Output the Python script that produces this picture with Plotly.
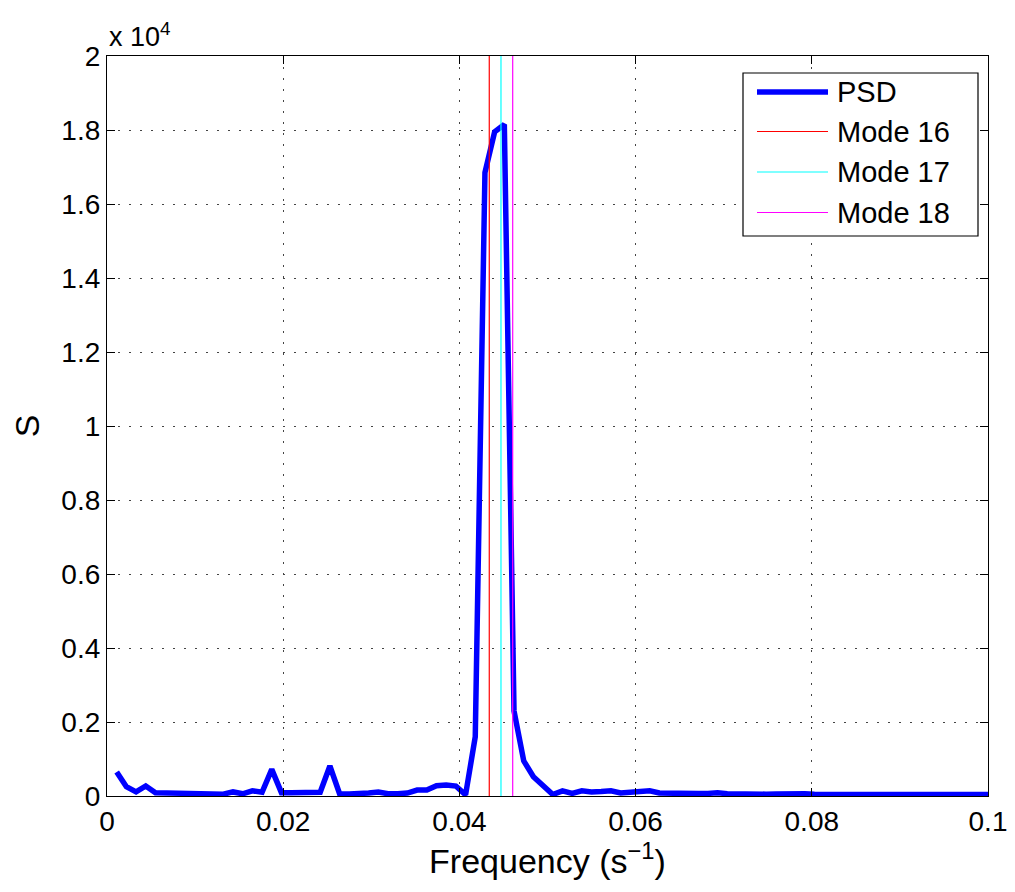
import plotly.graph_objects as go

# Frequency resolution and PSD values (S)
df = 0.0011
psd_values = [
    650, 250, 110, 270, 90, 80, 70, 60, 55, 50,
    50, 50, 110, 60, 140, 100, 720, 90, 85, 90,
    80, 100, 810, 60, 55, 60, 80, 110, 60, 60,
    80, 160, 160, 280, 300, 270, 30, 1600, 16850, 17950,
    18150, 2300, 950, 520, 300, 40, 140, 70, 140, 110,
    120, 140, 80, 100, 100, 140, 80, 70, 70, 60,
    65, 70, 90, 60, 50, 60, 55, 50, 55, 60,
    80, 60, 50, 50, 55, 70, 55, 50, 45, 50,
    45, 45, 50, 45, 40, 45, 45, 40, 40, 40, 40,
]
freqs = [df * (i + 1) for i in range(len(psd_values))]

mode_names = ["Mode 16", "Mode 17", "Mode 18"]
mode_freqs = [0.04339, 0.04472, 0.04605]
mode_colors = ["#ff0000", "#00ffff", "#ff00ff"]

y_max = 20000
y_ticks = [0, 2000, 4000, 6000, 8000, 10000, 12000, 14000, 16000, 18000, 20000]
y_ticktext = ["0", "0.2", "0.4", "0.6", "0.8", "1", "1.2", "1.4", "1.6", "1.8", "2"]
x_ticks = [0, 0.02, 0.04, 0.06, 0.08, 0.1]
x_ticktext = ["0", "0.02", "0.04", "0.06", "0.08", "0.1"]

FONT = "Liberation Sans, Arial, sans-serif"

W, H = 1015, 892
ML, MR, MT, MB = 99, 35, 48, 104
PW, PH = W - ML - MR, H - MT - MB


def px_x(px):
    return (px - 107) / PW


def px_y(py):
    return (796 - py) / PH


fig = go.Figure()
fig.add_trace(go.Scatter(
    x=freqs, y=psd_values, mode="lines", name="PSD",
    line=dict(color="#0000ff", width=5.5), showlegend=False,
))
for name, f, c in zip(mode_names, mode_freqs, mode_colors):
    fig.add_trace(go.Scatter(
        x=[f, f], y=[0, y_max], mode="lines", name=name,
        line=dict(color=c, width=1.2), showlegend=False,
    ))

# Custom legend (MATLAB-style, long line samples)
legend_names = ["PSD"] + mode_names
legend_colors = ["#0000ff"] + mode_colors
legend_widths = [5.5, 1.2, 1.2, 1.2]
row_y = [92, 131.5, 172, 212.5]
shapes = [dict(
    type="rect", xref="paper", yref="paper",
    x0=px_x(743), x1=px_x(978), y0=px_y(236), y1=px_y(73),
    line=dict(color="black", width=1.2), fillcolor="white", layer="above",
)]
annotations = []
for nm, col, lw, ry in zip(legend_names, legend_colors, legend_widths, row_y):
    shapes.append(dict(
        type="line", xref="paper", yref="paper",
        x0=px_x(757), x1=px_x(828), y0=px_y(ry), y1=px_y(ry),
        line=dict(color=col, width=lw), layer="above",
    ))
    annotations.append(dict(
        text=nm, xref="paper", yref="paper", x=px_x(835), y=px_y(ry),
        xanchor="left", yanchor="middle", showarrow=False,
        font=dict(size=29, family=FONT),
    ))

annotations.append(dict(
    text="x 10<sup>4</sup>", xref="paper", yref="paper",
    x=0.0, y=1.0, xanchor="left", yanchor="bottom", yshift=2,
    showarrow=False, font=dict(size=27, family=FONT),
))

fig.update_layout(
    width=W, height=H,
    margin=dict(l=ML, r=MR, t=MT, b=MB),
    paper_bgcolor="white", plot_bgcolor="white",
    font=dict(family=FONT, size=28, color="black"),
    showlegend=False,
    shapes=shapes,
    annotations=annotations,
)
fig.update_xaxes(
    range=[0, 0.1], tickvals=x_ticks, ticktext=x_ticktext,
    showline=True, linecolor="black", linewidth=1.2, mirror="ticks",
    ticks="inside", ticklen=8, tickcolor="black",
    showgrid=True, gridcolor="#444444", griddash="2px,9px", gridwidth=1,
    zeroline=False,
    title=dict(text="Frequency (s<sup>−1</sup>)", standoff=6),
)
fig.update_yaxes(
    range=[0, y_max], tickvals=y_ticks, ticktext=y_ticktext,
    showline=True, linecolor="black", linewidth=1.2, mirror="ticks",
    ticks="inside", ticklen=8, tickcolor="black",
    showgrid=True, gridcolor="#444444", griddash="2px,9px", gridwidth=1,
    zeroline=False,
    title=dict(text="S", standoff=18),
)

fig.write_html("out.html")
